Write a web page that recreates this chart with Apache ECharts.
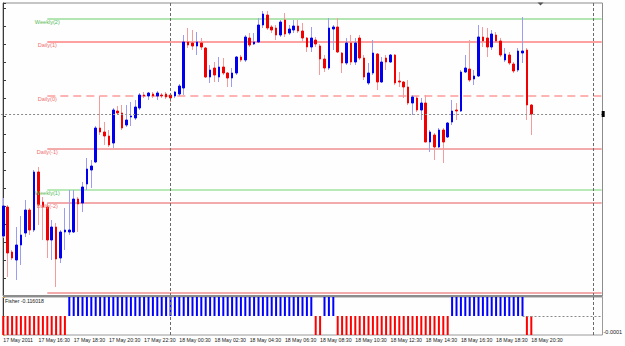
<!DOCTYPE html>
<html><head><meta charset="utf-8">
<script src="https://cdn.jsdelivr.net/npm/echarts@6/dist/echarts.min.js"></script>
<style>html,body{margin:0;padding:0;background:#fff}#c{width:625px;height:346px}</style>
</head><body><div id="c"></div>
<script>
// ---- data ----
const timeLabels = ["17 May 2011","17 May 16:30","17 May 18:30","17 May 20:30","17 May 22:30","18 May 00:30","18 May 02:30","18 May 04:30","18 May 06:30","18 May 08:30","18 May 10:30","18 May 12:30","18 May 14:30","18 May 16:30","18 May 18:30","18 May 20:30"];
const openP = [1.4064,1.4093,1.4048,1.4040,1.4055,1.4067,1.4090,1.4070,1.4128,1.4098,
1.4093,1.4060,1.4073,1.4042,1.4068,1.4068,1.4068,1.4101,1.4097,1.4116,
1.4130,1.4138,1.4172,1.4168,1.4164,1.4157,1.4189,1.4187,1.4175,1.4183,
1.4182,1.4192,1.4205,1.4204,1.4206,1.4204,1.4205,1.4206,1.4205,1.4204,
1.4206,1.4212,1.4258,1.4257,1.4254,1.4257,1.4252,1.4223,1.4232,1.4223,
1.4233,1.4227,1.4222,1.4227,1.4243,1.4240,1.4262,1.4256,1.4258,1.4275,
1.4285,1.4273,1.4272,1.4265,1.4280,1.4267,1.4270,1.4274,1.4269,1.4262,
1.4253,1.4260,1.4254,1.4241,1.4232,1.4271,1.4273,1.4247,1.4237,1.4257,
1.4238,1.4262,1.4242,1.4217,1.4227,1.4246,1.4218,1.4242,1.4238,1.4245,
1.4219,1.4218,1.4213,1.4197,1.4202,1.4190,1.4197,1.4158,1.4165,1.4153,
1.4170,1.4163,1.4178,1.4190,1.4189,1.4228,1.4231,1.4221,1.4224,1.4263,
1.4262,1.4253,1.4265,1.4259,1.4240,1.4245,1.4236,1.4230,1.4247,1.4250,
1.4195];
const closeP = [1.4094,1.4047,1.4042,1.4055,1.4065,1.4090,1.4070,1.4128,1.4095,1.4093,
1.4060,1.4073,1.4041,1.4068,1.4070,1.4070,1.4101,1.4096,1.4113,1.4131,
1.4134,1.4172,1.4168,1.4164,1.4155,1.4190,1.4187,1.4172,1.4180,1.4184,
1.4193,1.4205,1.4204,1.4207,1.4204,1.4207,1.4204,1.4203,1.4202,1.4208,
1.4214,1.4258,1.4255,1.4254,1.4258,1.4253,1.4223,1.4230,1.4225,1.4233,
1.4227,1.4222,1.4227,1.4243,1.4240,1.4263,1.4255,1.4258,1.4275,1.4286,
1.4272,1.4270,1.4265,1.4278,1.4266,1.4271,1.4274,1.4269,1.4262,1.4253,
1.4262,1.4256,1.4241,1.4232,1.4272,1.4273,1.4248,1.4237,1.4257,1.4238,
1.4257,1.4242,1.4223,1.4227,1.4247,1.4218,1.4238,1.4238,1.4245,1.4217,
1.4218,1.4213,1.4197,1.4203,1.4190,1.4197,1.4158,1.4168,1.4153,1.4170,
1.4158,1.4177,1.4189,1.4189,1.4228,1.4232,1.4220,1.4224,1.4263,1.4259,
1.4253,1.4266,1.4259,1.4245,1.4246,1.4237,1.4229,1.4249,1.4249,1.4195,
1.4186];
const lowP = [1.4062,1.4023,1.4040,1.4020,1.4035,1.4063,1.4065,1.4068,1.4075,1.4060,
1.4042,1.4040,1.4013,1.4037,1.4050,1.4065,1.4067,1.4068,1.4088,1.4110,
1.4112,1.4137,1.4165,1.4155,1.4153,1.4152,1.4185,1.4170,1.4173,1.4174,
1.4180,1.4190,1.4202,1.4200,1.4202,1.4200,1.4202,1.4201,1.4198,1.4202,
1.4204,1.4205,1.4252,1.4250,1.4245,1.4250,1.4222,1.4217,1.4218,1.4218,
1.4225,1.4213,1.4213,1.4225,1.4238,1.4238,1.4253,1.4255,1.4257,1.4272,
1.4270,1.4267,1.4260,1.4263,1.4263,1.4265,1.4267,1.4267,1.4258,1.4248,
1.4248,1.4253,1.4225,1.4228,1.4230,1.4250,1.4247,1.4227,1.4235,1.4235,
1.4235,1.4240,1.4220,1.4215,1.4225,1.4210,1.4217,1.4230,1.4237,1.4215,
1.4213,1.4202,1.4195,1.4185,1.4188,1.4180,1.4158,1.4148,1.4140,1.4152,
1.4137,1.4162,1.4175,1.4180,1.4188,1.4227,1.4218,1.4215,1.4223,1.4253,
1.4243,1.4250,1.4257,1.4243,1.4238,1.4235,1.4227,1.4228,1.4237,1.4180,
1.4165];
const highP = [1.4102,1.4095,1.4050,1.4073,1.4084,1.4100,1.4092,1.4130,1.4133,1.4103,
1.4097,1.4080,1.4077,1.4070,1.4092,1.4110,1.4110,1.4103,1.4118,1.4142,
1.4140,1.4174,1.4204,1.4178,1.4170,1.4192,1.4194,1.4195,1.4195,1.4198,
1.4200,1.4207,1.4208,1.4208,1.4208,1.4209,1.4207,1.4208,1.4207,1.4209,
1.4216,1.4265,1.4272,1.4270,1.4268,1.4262,1.4253,1.4235,1.4238,1.4243,
1.4242,1.4228,1.4232,1.4244,1.4245,1.4265,1.4267,1.4267,1.4282,1.4289,
1.4289,1.4275,1.4275,1.4280,1.4287,1.4275,1.4280,1.4280,1.4277,1.4263,
1.4273,1.4263,1.4256,1.4245,1.4282,1.4275,1.4282,1.4248,1.4262,1.4265,
1.4262,1.4265,1.4245,1.4237,1.4260,1.4247,1.4243,1.4245,1.4246,1.4246,
1.4228,1.4219,1.4220,1.4205,1.4204,1.4202,1.4205,1.4170,1.4167,1.4172,
1.4172,1.4178,1.4200,1.4197,1.4230,1.4245,1.4260,1.4230,1.4275,1.4273,
1.4272,1.4270,1.4268,1.4262,1.4252,1.4248,1.4238,1.4252,1.4283,1.4252,
1.4196];
const fisherHist = [
-0.0001,-0.0001,-0.0001,-0.0001,-0.0001,-0.0001,-0.0001,-0.0001,-0.0001,-0.0001,
-0.0001,-0.0001,-0.0001,-0.0001,-0.0001,0.0001,0.0001,0.0001,0.0001,0.0001,
0.0001,0.0001,0.0001,0.0001,0.0001,0.0001,0.0001,0.0001,0.0001,0.0001,
0.0001,0.0001,0.0001,0.0001,0.0001,0.0001,0.0001,0.0001,0.0001,0.0001,
0.0001,0.0001,0.0001,0.0001,0.0001,0.0001,0.0001,0.0001,0.0001,0.0001,
0.0001,0.0001,0.0001,0.0001,0.0001,0.0001,0.0001,0.0001,0.0001,0.0001,
0.0001,0.0001,0.0001,0.0001,0.0001,0.0001,0.0001,0.0001,0.0001,0.0001,
0.0001,-0.0001,-0.0001,0.0001,0.0001,0.0001,-0.0001,-0.0001,-0.0001,-0.0001,
-0.0001,-0.0001,-0.0001,-0.0001,-0.0001,-0.0001,-0.0001,-0.0001,-0.0001,-0.0001,
-0.0001,-0.0001,-0.0001,-0.0001,-0.0001,-0.0001,-0.0001,-0.0001,-0.0001,-0.0001,
-0.0001,-0.0001,0.0001,0.0001,0.0001,0.0001,0.0001,0.0001,0.0001,0.0001,
0.0001,0.0001,0.0001,0.0001,0.0001,0.0001,0.0001,0.0001,0.0001,-0.0001,
-0.0001];
const levelNames = ["Weekly(2)","Daily(1)","Daily(0)","Daily(-1)","Weekly(1)","Daily(-2)","Daily(-3)"];
const levelValues = [1.4281,1.4258,1.4204,1.4151,1.4110,1.4097,1.4007];
const levelStartBar = 10;
const daySeparatorBars = [38, 134];
const fisherLast = "-0.116018";

// ---- styles ----
const FONT = 'Liberation Sans';
const levelStyles = [
  {color:'#66cc66', width:1, type:'solid', text:'#5cbc5c', label:true},
  {color:'#ffa0a0', width:2, type:'solid', text:'#f07272', label:true},
  {color:'#ffb4b4', width:2, type:[8,5], text:'#f07272', label:true},
  {color:'#e85858', width:1, type:'solid', text:'#f07272', label:true},
  {color:'#b8eab8', width:2, type:'solid', text:'#5cbc5c', label:true},
  {color:'#e85858', width:1, type:'solid', text:'#f07272', label:true},
  {color:'#e85858', width:1, type:'solid', text:'#f07272', label:false}
];

const N = 137;
const cats = Array.from({length: N}, (_, i) => String(i));
const candleData = openP.map((o, i) => [o, closeP[i], lowP[i], highP[i]]);
const bodyData = openP.map((o, i) => [o, closeP[i], Math.min(o, closeP[i]), Math.max(o, closeP[i])]);
const lastClose = closeP[closeP.length - 1];

const sepLines = daySeparatorBars.map(b => ({xAxis: b, lineStyle: {color: '#6a6a6a', type: [3, 2], width: 1}}));

const levelSeries = levelValues.map((v, k) => ({
  name: levelNames[k], type: 'line', xAxisIndex: 0, yAxisIndex: 0, silent: true, z: 1,
  symbol: 'none', animation: false,
  lineStyle: {color: levelStyles[k].color, width: levelStyles[k].width, type: levelStyles[k].type, opacity: 1},
  data: [[levelStartBar, v], [N - 1, v]]
}));

const markPts = [];
levelValues.forEach((v, k) => {
  if (!levelStyles[k].label) return;
  markPts.push({
    name: levelNames[k], coord: [levelStartBar, v], symbol: 'rect', symbolSize: 0.1,
    itemStyle: {color: 'rgba(0,0,0,0)'},
    label: {show: true, formatter: levelNames[k], position: 'bottom', distance: 0.3,
            color: levelStyles[k].text, fontSize: 5.6, fontFamily: FONT}
  });
});
markPts.push({coord: [N - 1, lastClose], symbol: 'rect', symbolSize: [3, 6], symbolOffset: [1.5, 0],
  itemStyle: {color: '#000'}, label: {show: false}});

const chart = echarts.init(document.getElementById('c'), null, {renderer: 'svg', width: 625, height: 346});
chart.setOption({
  backgroundColor: '#fdfefd',
  animation: false,
  title: {text: 'Fisher ' + fisherLast, left: 5, top: 298, padding: 0,
    textStyle: {fontSize: 5.2, fontWeight: 'normal', color: '#222', fontFamily: FONT}},
  grid: [
    {left: 1.1, top: 3, width: 602.8, height: 293, outerBoundsMode: 'none'},
    {left: 1.1, top: 297, width: 602.8, height: 38, outerBoundsMode: 'none'},
    {left: 3, top: 3, width: 599.5, height: 293, outerBoundsMode: 'none', show: true, borderColor: '#8c8c8c', borderWidth: 1, backgroundColor: 'transparent'},
    {left: 3, top: 297, width: 599.5, height: 38, outerBoundsMode: 'none', show: true, borderColor: '#9a9a9a', borderWidth: 1, backgroundColor: 'transparent'}
  ],
  xAxis: [
    {gridIndex: 0, type: 'category', data: cats, boundaryGap: true, show: false},
    {gridIndex: 1, type: 'category', data: cats, boundaryGap: true,
      axisLine: {show: false}, axisTick: {show: false}, splitLine: {show: false},
      axisLabel: {show: true, interval: 7, align: 'left', margin: 2, fontSize: 5.2, color: '#222', fontFamily: FONT,
        formatter: (val, idx) => (idx % 8 === 0 && idx / 8 < timeLabels.length) ? timeLabels[idx / 8] : ''}},
    {gridIndex: 2, type: 'value', show: false, splitLine: {show: false}},
    {gridIndex: 3, type: 'value', show: false, splitLine: {show: false}}
  ],
  yAxis: [
    {gridIndex: 0, type: 'value', min: 1.4004, max: 1.4297, show: false, splitLine: {show: false}},
    {gridIndex: 1, type: 'value', min: -0.0001, max: 0.0001, show: false, splitLine: {show: false}},
    {gridIndex: 2, type: 'value', position: 'right', min: 1.4004, max: 1.4297, interval: 0.0018,
      axisLine: {show: true, lineStyle: {color: '#3a3a3a', width: 1}},
      axisTick: {show: true, length: 3, lineStyle: {color: '#3a3a3a'}},
      axisLabel: {show: false}, splitLine: {show: false}},
    {gridIndex: 3, type: 'value', position: 'right', min: -0.0001, max: 0.0001, interval: 0.0001,
      axisLine: {show: true, lineStyle: {color: '#3a3a3a', width: 1}},
      axisTick: {show: true, length: 2, lineStyle: {color: '#e0a040'}},
      axisLabel: {show: true, margin: 1, fontSize: 5.5, color: '#222', fontFamily: FONT, verticalAlign: 'bottom',
        formatter: v => v < 0 ? v.toFixed(4) : ''},
      splitLine: {show: false}}
  ],
  graphic: [
    {type: 'rect', shape: {x: 3, y: 295, width: 599.5, height: 2}, style: {fill: '#8c8c8c'}, z: 50},
    {type: 'polygon', shape: {points: [[537.5, 2.5], [543.5, 2.5], [540.5, 5.5]]}, style: {fill: '#555'}, z: 50}
  ],
  series: [
    ...levelSeries,
    {
      name: 'wicks', type: 'candlestick', xAxisIndex: 0, yAxisIndex: 0, data: candleData, barWidth: 1, z: 3,
      itemStyle: {color: '#9c9cf2', color0: '#f49c9c', borderColor: '#9c9cf2', borderColor0: '#f49c9c', borderWidth: 1},
      markLine: {
        silent: true, symbol: ['none', 'none'], label: {show: false}, precision: 6,
        data: [
          ...sepLines,
          {yAxis: lastClose, lineStyle: {color: '#8a8a8a', type: [2, 2], width: 1}}
        ]
      },
      markPoint: {silent: true, label: {show: false}, data: markPts}
    },
    {
      name: 'bodies', type: 'candlestick', xAxisIndex: 0, yAxisIndex: 0, data: bodyData, barWidth: 2, z: 4,
      itemStyle: {color: '#0000ee', color0: '#f00000', borderColor: '#0000ee', borderColor0: '#f00000', borderWidth: 1}
    },
    {
      name: 'Fisher', type: 'bar', xAxisIndex: 1, yAxisIndex: 1, data: fisherHist, barWidth: 2,
      itemStyle: {color: p => p.value > 0 ? '#0000ff' : '#ff0000'},
      markLine: {
        silent: true, symbol: ['none', 'none'], label: {show: false}, precision: 6,
        data: [
          ...sepLines,
          [{coord: [118, 0], lineStyle: {color: '#8a8a8a', type: [2, 2], width: 1}}, {coord: [N - 1, 0]}]
        ]
      }
    }
  ]
});
</script></body></html>
